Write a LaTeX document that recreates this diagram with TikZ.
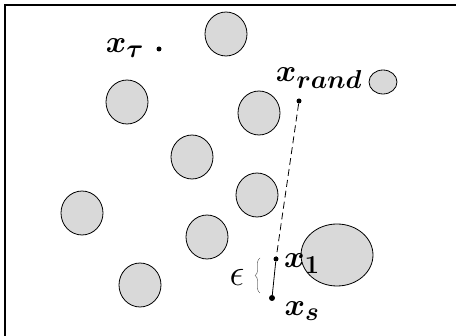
\documentclass[tikz,border=0pt]{standalone}
\usepackage{amsmath}
\usepackage{bm}
\usetikzlibrary{shapes.geometric,decorations.pathreplacing}
\tikzset{
  obstacle/.style={draw, ellipse, fill=gray!30, inner sep=0pt, line width=0.8pt,
    minimum width=42pt, minimum height=44pt},
  samplept/.style={circle, fill=black, inner sep=0pt, minimum size=5pt},
  ptlabel/.style={font=\Huge, scale=1.25, inner sep=0pt}
}
\begin{document}
\begin{tikzpicture}[x=1pt,y=-1pt]
    \useasboundingbox (0,0) rectangle (456,336);
    \draw[line width=1.2pt] (5,336) |- (456,5);
    % obstacles
    \node[obstacle] (obsA) at (226,34) {};
    \node[obstacle] (obsB) at (127,102) {};
    \node[obstacle] (obsC) at (259,113) {};
    \node[obstacle] (obsD) at (192,157) {};
    \node[obstacle] (obsE) at (257,195) {};
    \node[obstacle] (obsF) at (82,213) {};
    \node[obstacle] (obsG) at (207,237) {};
    \node[obstacle] (obsH) at (140,285) {};
    \node[obstacle, minimum width=28pt, minimum height=24pt] (obsI) at (383,82) {};
    \node[obstacle, minimum width=72pt, minimum height=62pt] (obsJ) at (337,255) {};
    % sample points
    \node[samplept] (tau) at (159,49) {};
    \node[samplept] (rand) at (299,101) {};
    \node[samplept] (xone) at (276,259) {};
    \node[samplept, minimum size=6pt] (xs) at (272,298) {};
    \node[ptlabel] (taulbl) at (125,48) {$\bm{x_{\tau}}$};
    \node[ptlabel] (randlbl) at (319,78) {$\bm{x_{rand}}$};
    \node[ptlabel] (xonelbl) at (302,264) {$\bm{x_{1}}$};
    \node[ptlabel] (xslbl) at (302,311) {$\bm{x_{s}}$};
    \draw[line width=0.8pt, dash pattern=on 7pt off 4pt] (rand) -- (xone);
    \draw[line width=0.8pt] (xone) -- (xs);
    % step length
    \coordinate (bracelo) at (260,293);
    \coordinate (bracehi) at (260,258);
    \draw[decorate, decoration={brace, amplitude=5pt}, line width=0.3pt] (bracelo) -- (bracehi);
    \node[font=\Huge, scale=1.5] (eps) at (237,277) {$\epsilon$};
\end{tikzpicture}
\end{document}
